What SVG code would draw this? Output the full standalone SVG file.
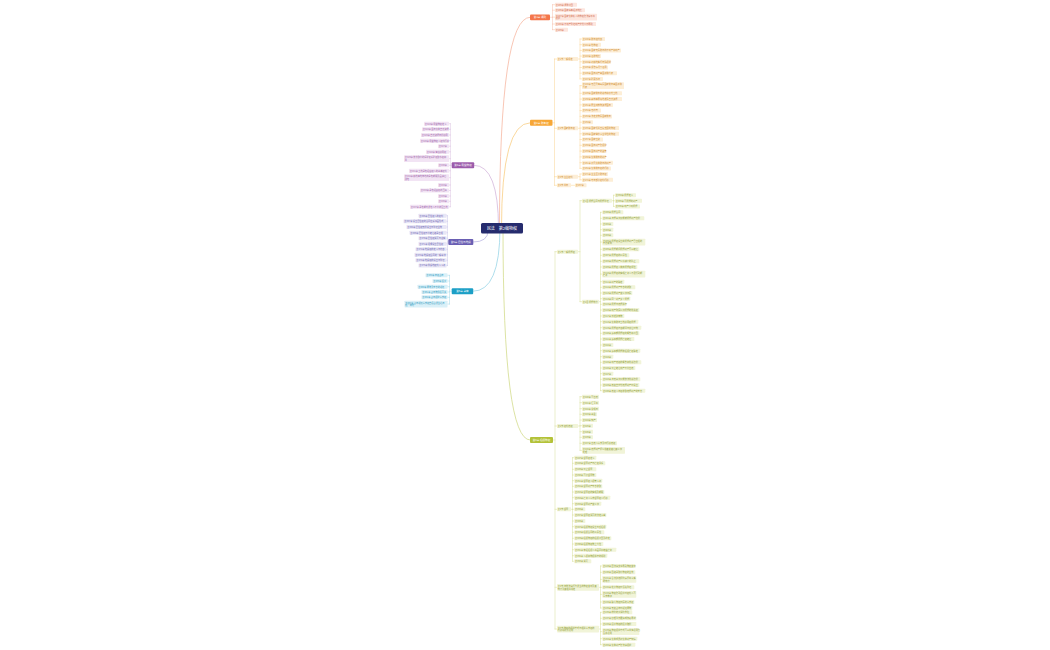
<svg xmlns="http://www.w3.org/2000/svg" width="1050" height="650" viewBox="0 0 1050 650">
<style>
text{font-family:"Noto Sans CJK SC","Noto Sans",sans-serif;font-size:2.2px}
rect{rx:0.6px}
path{fill:none;stroke-width:0.4;stroke-linecap:round}
.mc{stroke-width:0.7}
.k1{stroke:#f5ad95}.k2{stroke:#f8c773}.k3{stroke:#cdd77d}.k4{stroke:#cfaed7}.k5{stroke:#b3aee0}.k6{stroke:#8dd0e4}
.b1 rect{fill:#fde6de}.b1 text{fill:#d06a4b}
.b2 rect{fill:#fdeed6}.b2 text{fill:#cf8a2a}
.b3 rect{fill:#f1f4d8}.b3 text{fill:#8e9a2f}
.b4 rect{fill:#f2e4f4}.b4 text{fill:#9b62a9}
.b5 rect{fill:#e8e6f6}.b5 text{fill:#6961b0}
.b6 rect{fill:#daf0f8}.b6 text{fill:#2a98bd}
.m rect{rx:1px}.m text{fill:#fff;font-size:2.6px;text-anchor:middle}
.b1 .m rect{fill:#f4764a}.b2 .m rect{fill:#f7a736}.b3 .m rect{fill:#b3c238}
.b4 .m rect{fill:#9c5bab}.b5 .m rect{fill:#6a5fb3}.b6 .m rect{fill:#1c9fc6}
#c0 rect{fill:#252b6d;rx:1.5px}#c0 text{fill:#fff;font-size:4px;text-anchor:middle}
</style>
<rect width="1050" height="650" fill="#fff" rx="0"/>
<g id="connectors">
<path class="k1 mc" d="M499.5,228Q499.5,17.3 530,17.3"/>
<path class="k2 mc" d="M501.5,228Q501.5,122.8 530,122.8"/>
<path class="k3 mc" d="M503,228Q503,440 530,440"/>
<path class="k4 mc" d="M498.5,228Q498.5,165.3 474.2,165.3"/>
<path class="k5 mc" d="M488,231Q488,242 473.3,242"/>
<path class="k6 mc" d="M500,228Q500,291.2 473.2,291.2"/>
<path class="k1" d="M550,17.3H552.5M552.5,4.7V29.7M552.5,4.7H555M552.5,10.2H555M552.5,17.15H555M552.5,24H555M552.5,29.7H555"/>
<path class="k2" d="M552.5,122.8H554.5M554.5,59V185.3M554.5,59H557M554.5,128.3H557M554.5,176.7H557M554.5,185.3H557"/>
<path class="k2" d="M578,59H580M580,39V78.9M580,39H582M580,44.7H582M580,50.4H582M580,56.1H582M580,61.8H582M580,67.5H582M580,73.2H582M580,78.9H582"/>
<path class="k2" d="M578,128.3H580M580,85.65V168.4M580,85.65H582M580,93.3H582M580,99.1H582M580,104.9H582M580,110.6H582M580,116.4H582M580,122.2H582M580,128H582M580,133.8H582M580,139.5H582M580,145.3H582M580,151.1H582M580,156.9H582M580,162.7H582M580,168.4H582"/>
<path class="k2" d="M578,176.7H580M580,174V179.8M580,174H582M580,179.8H582M571,185.3H575"/>
<path class="k3" d="M553,440H555M555,251.7V629M555,251.7H557M555,426H557M555,509.3H557M555,587.3H557M555,629H557"/>
<path class="k3" d="M578,251.7H580M580,200.7V301.7M580,200.7H582M580,301.7H582"/>
<path class="k3" d="M612,200.7H613.5M613.5,195.2V206.4M613.5,195.2H615M613.5,200.8H615M613.5,206.4H615"/>
<path class="k3" d="M599,301.7H600.5M600.5,212.3V390.7M600.5,212.3H602.3M600.5,218.3H602.3M600.5,224H602.3M600.5,229.7H602.3M600.5,235.3H602.3M600.5,242.05H602.3M600.5,249.3H602.3M600.5,255.3H602.3M600.5,261.3H602.3M600.5,267H602.3M600.5,274.05H602.3M600.5,281.7H602.3M600.5,287.3H602.3M600.5,293H602.3M600.5,298.7H602.3M600.5,304.3H602.3M600.5,310H602.3M600.5,316H602.3M600.5,321.7H602.3M600.5,327.7H602.3M600.5,333.3H602.3M600.5,339H602.3M600.5,345H602.3M600.5,350.7H602.3M600.5,356.7H602.3M600.5,362.3H602.3M600.5,368H602.3M600.5,373.7H602.3M600.5,379.3H602.3M600.5,385H602.3M600.5,390.7H602.3"/>
<path class="k3" d="M578,426H580M580,396.7V450.35M580,396.7H582M580,402.7H582M580,408.7H582M580,414.3H582M580,420H582M580,425.7H582M580,431.7H582M580,437.3H582M580,443.3H582M580,450.35H582"/>
<path class="k3" d="M571,509.3H572.5M572.5,457.7V561.3M572.5,457.7H574.3M572.5,463.3H574.3M572.5,469.3H574.3M572.5,475H574.3M572.5,480.7H574.3M572.5,486.3H574.3M572.5,492H574.3M572.5,497.7H574.3M572.5,503.7H574.3M572.5,509.3H574.3M572.5,515H574.3M572.5,521H574.3M572.5,526.7H574.3M572.5,532.3H574.3M572.5,538.3H574.3M572.5,544H574.3M572.5,549.7H574.3M572.5,555.7H574.3M572.5,561.3H574.3"/>
<path class="k3" d="M599,587.3H600.5M600.5,566V608M600.5,566H602.3M600.5,572.3H602.3M600.5,579.35H602.3M600.5,587.3H602.3M600.5,594.35H602.3M600.5,602H602.3M600.5,608H602.3"/>
<path class="k3" d="M599,629H600.5M600.5,612.3V644.7M600.5,612.3H602.3M600.5,618.3H602.3M600.5,624H602.3M600.5,631.65H602.3M600.5,638.7H602.3M600.5,644.7H602.3"/>
<path class="k4" d="M451.7,165.3H450.4M450.4,123.7V206.8M450.4,123.7H449M450.4,129.3H449M450.4,135H449M450.4,140.7H449M450.4,146.2H449M450.4,151.8H449M450.4,158.65H449M450.4,165.3H449M450.4,170.8H449M450.4,177.65H449M450.4,185H449M450.4,190.5H449M450.4,196H449M450.4,201.3H449M450.4,206.8H449"/>
<path class="k5" d="M448.3,242H447.4M447.4,215.7V265.6M447.4,215.7H446.5M447.4,221.3H446.5M447.4,227H446.5M447.4,232.7H446.5M447.4,238.2H446.5M447.4,243.8H446.5M447.4,249.3H446.5M447.4,254.8H446.5M447.4,260.2H446.5M447.4,265.6H446.5"/>
<path class="k6" d="M451.7,291.2H449.5M449.5,275.3V304.05M449.5,275.3H447.5M449.5,281H447.5M449.5,286.7H447.5M449.5,292H447.5M449.5,297.3H447.5M449.5,304.05H447.5"/>
</g>
<g id="nodes">
<g id="c0"><rect x="481" y="223" width="42" height="10.5"/><text x="502" y="229.7">民法　第2编物权</text></g>

<g class="b1">
<g id="n1" class="m"><rect x="530" y="14.4" width="20" height="5.8"/><text x="540" y="18.2">第1章 通则</text></g>
<g id="r1"><rect x="555" y="2.7" width="22" height="4"/><text x="555.8" y="5.5">第205条 调整范围</text></g>
<g id="r2"><rect x="555" y="8.2" width="30" height="4"/><text x="555.8" y="11">第206条 国家基本经济制度</text></g>
<g id="r3"><rect x="555" y="13.8" width="42" height="6.7"/><text x="555.8" y="16.6">第207条 国家集体私人的物权受法律平等<tspan x="555.8" y="19.3">保护</tspan></text></g>
<g id="r4"><rect x="555" y="22" width="41" height="4"/><text x="555.8" y="24.8">第208条 不动产登记动产交付公示原则</text></g>
<g id="r5"><rect x="555" y="27.7" width="13" height="4"/><text x="555.8" y="30.5">第209条</text></g>
</g>

<g class="b2">
<g id="n2" class="m"><rect x="530" y="119.8" width="22.5" height="6"/><text x="541.25" y="123.7">第2章 所有权</text></g>
<g id="sA"><rect x="557" y="57" width="21" height="4"/><text x="557.8" y="59.8">第1节 一般规定</text></g>
<g id="sB"><rect x="557" y="126.3" width="21" height="4"/><text x="557.8" y="129.1">第2节 国家所有权</text></g>
<g id="sC"><rect x="557" y="174.7" width="21" height="4"/><text x="557.8" y="177.5">第3节 业主权利</text></g>
<g id="sD"><rect x="557" y="183.3" width="14" height="4"/><text x="557.8" y="186.1">第4节 共有</text></g>
<g id="a1"><rect x="582" y="37" width="23" height="4"/><text x="582.8" y="39.8">第240条 所有权内容</text></g>
<g id="a2"><rect x="582" y="42.7" width="19" height="4"/><text x="582.8" y="45.5">第241条 他物权</text></g>
<g id="a3"><rect x="582" y="48.4" width="39" height="4"/><text x="582.8" y="51.2">第242条 国家专属所有的不动产和动产</text></g>
<g id="a4"><rect x="582" y="54.1" width="19" height="4"/><text x="582.8" y="56.9">第243条 征收制度</text></g>
<g id="a5"><rect x="582" y="59.8" width="29" height="4"/><text x="582.8" y="62.6">第244条 对耕地实行特殊保护</text></g>
<g id="a6"><rect x="582" y="65.5" width="26" height="4"/><text x="582.8" y="68.3">第245条 紧急情况下征用</text></g>
<g id="a7"><rect x="582" y="71.2" width="35" height="4"/><text x="582.8" y="74">第246条 国有财产由国务院代表</text></g>
<g id="a8"><rect x="582" y="76.9" width="21" height="4"/><text x="582.8" y="79.7">第247条 矿藏水流</text></g>
<g id="b1"><rect x="582" y="82.3" width="42" height="6.7"/><text x="582.8" y="85.1">第248条 无居民海岛属国家所有由国务院<tspan x="582.8" y="87.8">代表</tspan></text></g>
<g id="b2"><rect x="582" y="91.3" width="40" height="4"/><text x="582.8" y="94.1">第249条 国家所有的城市和农村土地</text></g>
<g id="b3"><rect x="582" y="97.1" width="40" height="4"/><text x="582.8" y="99.9">第250条 森林草原荒地滩涂自然资源</text></g>
<g id="b4"><rect x="582" y="102.9" width="31" height="4"/><text x="582.8" y="105.7">第251条 野生动植物资源国有</text></g>
<g id="b5"><rect x="582" y="108.6" width="19" height="4"/><text x="582.8" y="111.4">第252条 无线电</text></g>
<g id="b6"><rect x="582" y="114.4" width="30" height="4"/><text x="582.8" y="117.2">第253条 法定文物属国家所有</text></g>
<g id="b7"><rect x="582" y="120.2" width="11" height="4"/><text x="582.8" y="123">第254条</text></g>
<g id="b8"><rect x="582" y="126" width="37" height="4"/><text x="582.8" y="128.8">第255条 国家机关直接支配的物权</text></g>
<g id="b9"><rect x="582" y="131.8" width="37" height="4"/><text x="582.8" y="134.6">第256条 国家举办事业单位的物权</text></g>
<g id="b10"><rect x="582" y="137.5" width="21" height="4"/><text x="582.8" y="140.3">第257条 国家出资</text></g>
<g id="b11"><rect x="582" y="143.3" width="24" height="4"/><text x="582.8" y="146.1">第258条 国有财产受保护</text></g>
<g id="b12"><rect x="582" y="149.1" width="24" height="4"/><text x="582.8" y="151.9">第259条 国有财产的监管</text></g>
<g id="b13"><rect x="582" y="154.9" width="24" height="4"/><text x="582.8" y="157.7">第260条 集体所有的财产</text></g>
<g id="b14"><rect x="582" y="160.7" width="31" height="4"/><text x="582.8" y="163.5">第261条 农民集体所有的财产</text></g>
<g id="b15"><rect x="582" y="166.4" width="29" height="4"/><text x="582.8" y="169.2">第262条 集体所有权的行使</text></g>
<g id="c1"><rect x="582" y="172" width="26" height="4"/><text x="582.8" y="174.8">第271条 业主区分所有权</text></g>
<g id="c2"><rect x="582" y="177.8" width="31" height="4"/><text x="582.8" y="180.6">第272条 专有部分权利行使</text></g>
<g id="d1"><rect x="575" y="183.3" width="11.5" height="4"/><text x="575.8" y="186.1">第297条</text></g>
</g>

<g class="b3">
<g id="n3" class="m"><rect x="530" y="437" width="23" height="6"/><text x="541.5" y="440.9">第3章 担保物权</text></g>
<g id="sE"><rect x="557" y="249.7" width="21" height="4"/><text x="557.8" y="252.5">第1节 一般抵押权</text></g>
<g id="sE1"><rect x="582" y="198.7" width="30" height="4"/><text x="582.8" y="201.5">第1目 抵押合同与抵押登记</text></g>
<g id="sE2"><rect x="582" y="299.7" width="17" height="4"/><text x="582.8" y="302.5">第2目 抵押效力</text></g>
<g id="e1a"><rect x="615" y="193.2" width="21" height="4"/><text x="615.8" y="196">第394条 抵押定义</text></g>
<g id="e1b"><rect x="615" y="198.8" width="27" height="4"/><text x="615.8" y="201.6">第395条 可抵押的财产</text></g>
<g id="e1c"><rect x="615" y="204.4" width="25" height="4"/><text x="615.8" y="207.2">第396条 动产浮动抵押</text></g>
<g id="e01"><rect x="602.3" y="210.3" width="21" height="4"/><text x="603.1" y="213.1">第400条 抵押合同</text></g>
<g id="e02"><rect x="602.3" y="216.3" width="42" height="4"/><text x="603.1" y="219.1">第401条 流押条款仅能就抵押财产受偿</text></g>
<g id="e03"><rect x="602.3" y="222" width="11" height="4"/><text x="603.1" y="224.8">第402条</text></g>
<g id="e04"><rect x="602.3" y="227.7" width="11" height="4"/><text x="603.1" y="230.5">第403条</text></g>
<g id="e05"><rect x="602.3" y="233.3" width="11" height="4"/><text x="603.1" y="236.1">第404条</text></g>
<g id="e06"><rect x="602.3" y="238.7" width="43" height="6.7"/><text x="603.1" y="241.5">第405条 抵押权设立前抵押财产已出租的<tspan x="603.1" y="244.2">不受影响</tspan></text></g>
<g id="e07"><rect x="602.3" y="247.3" width="37" height="4"/><text x="603.1" y="250.1">第406条 抵押期间抵押财产可以转让</text></g>
<g id="e08"><rect x="602.3" y="253.3" width="27" height="4"/><text x="603.1" y="256.1">第407条 抵押权的从属性</text></g>
<g id="e09"><rect x="602.3" y="259.3" width="37" height="4"/><text x="603.1" y="262.1">第408条 抵押财产价值减少的防止</text></g>
<g id="e10"><rect x="602.3" y="265" width="35" height="4"/><text x="603.1" y="267.8">第409条 抵押权人放弃抵押权顺位</text></g>
<g id="e11"><rect x="602.3" y="270.7" width="43" height="6.7"/><text x="603.1" y="273.5">第410条 抵押权的实现债务人不履行到期<tspan x="603.1" y="276.2">债务</tspan></text></g>
<g id="e12"><rect x="602.3" y="279.7" width="22" height="4"/><text x="603.1" y="282.5">第411条 财产的确定</text></g>
<g id="e13"><rect x="602.3" y="285.3" width="33" height="4"/><text x="603.1" y="288.1">第412条 抵押财产孳息的收取</text></g>
<g id="e14"><rect x="602.3" y="291" width="30" height="4"/><text x="603.1" y="293.8">第413条 抵押财产变价款归属</text></g>
<g id="e15"><rect x="602.3" y="296.7" width="28" height="4"/><text x="603.1" y="299.5">第414条 同一财产多个抵押</text></g>
<g id="e16"><rect x="602.3" y="302.3" width="24" height="4"/><text x="603.1" y="305.1">第415条 抵押与质押并存</text></g>
<g id="e17"><rect x="602.3" y="308" width="37" height="4"/><text x="603.1" y="310.8">第416条 动产购买价款抵押的优先权</text></g>
<g id="e18"><rect x="602.3" y="314" width="22" height="4"/><text x="603.1" y="316.8">第417条 新增建筑物</text></g>
<g id="e19"><rect x="602.3" y="319.7" width="36" height="4"/><text x="603.1" y="322.5">第418条 集体所有土地使用权抵押</text></g>
<g id="e20"><rect x="602.3" y="325.7" width="39" height="4"/><text x="603.1" y="328.5">第419条 抵押权存续期间与诉讼时效</text></g>
<g id="e21"><rect x="602.3" y="331.3" width="37" height="4"/><text x="603.1" y="334.1">第420条 最高额抵押权的概念和范围</text></g>
<g id="e22"><rect x="602.3" y="337" width="32" height="4"/><text x="603.1" y="339.8">第421条 最高额抵押债权转让</text></g>
<g id="e23"><rect x="602.3" y="343" width="11" height="4"/><text x="603.1" y="345.8">第422条</text></g>
<g id="e24"><rect x="602.3" y="348.7" width="38" height="4"/><text x="603.1" y="351.5">第423条 最高额抵押所担保债权确定</text></g>
<g id="e25"><rect x="602.3" y="354.7" width="11" height="4"/><text x="603.1" y="357.5">第424条</text></g>
<g id="e26"><rect x="602.3" y="360.3" width="39" height="4"/><text x="603.1" y="363.1">第425条 动产质权的概念和优先受偿</text></g>
<g id="e27"><rect x="602.3" y="366" width="33" height="4"/><text x="603.1" y="368.8">第426条 禁止转让动产不得出质</text></g>
<g id="e28"><rect x="602.3" y="371.7" width="11" height="4"/><text x="603.1" y="374.5">第427条</text></g>
<g id="e29"><rect x="602.3" y="377.3" width="38" height="4"/><text x="603.1" y="380.1">第428条 流质条款只能依法优先受偿</text></g>
<g id="e30"><rect x="602.3" y="383" width="37" height="4"/><text x="603.1" y="385.8">第429条 质权自交付质押财产时设立</text></g>
<g id="e31"><rect x="602.3" y="388.7" width="43" height="4"/><text x="603.1" y="391.5">第430条 质权人有权收取质押财产的孳息</text></g>
<g id="sF"><rect x="557" y="424" width="21" height="4"/><text x="557.8" y="426.8">第2节 权利质权</text></g>
<g id="f01"><rect x="582" y="394.7" width="17" height="4"/><text x="582.8" y="397.5">第440条 可出质</text></g>
<g id="f02"><rect x="582" y="400.7" width="17" height="4"/><text x="582.8" y="403.5">第441条 汇票等</text></g>
<g id="f03"><rect x="582" y="406.7" width="17" height="4"/><text x="582.8" y="409.5">第442条 兑现日</text></g>
<g id="f04"><rect x="582" y="412.3" width="15" height="4"/><text x="582.8" y="415.1">第443条 基金</text></g>
<g id="f05"><rect x="582" y="418" width="15" height="4"/><text x="582.8" y="420.8">第444条 知产</text></g>
<g id="f06"><rect x="582" y="423.7" width="11" height="4"/><text x="582.8" y="426.5">第445条</text></g>
<g id="f07"><rect x="582" y="429.7" width="11" height="4"/><text x="582.8" y="432.5">第446条</text></g>
<g id="f08"><rect x="582" y="435.3" width="11" height="4"/><text x="582.8" y="438.1">第439条</text></g>
<g id="f09"><rect x="582" y="441.3" width="35" height="4"/><text x="582.8" y="444.1">第437条 出质人请求及时行使质权</text></g>
<g id="f10"><rect x="582" y="447" width="43" height="6.7"/><text x="582.8" y="449.8">第438条 质押财产折价拍卖变卖后其价款<tspan x="582.8" y="452.5">处理</tspan></text></g>
<g id="sG"><rect x="557" y="507.3" width="14" height="4"/><text x="557.8" y="510.1">第3节 留置</text></g>
<g id="g01"><rect x="574.3" y="455.7" width="22" height="4"/><text x="575.1" y="458.5">第447条 留置权定义</text></g>
<g id="g02"><rect x="574.3" y="461.3" width="31" height="4"/><text x="575.1" y="464.1">第448条 留置财产与债权关系</text></g>
<g id="g03"><rect x="574.3" y="467.3" width="22" height="4"/><text x="575.1" y="470.1">第449条 禁止留置</text></g>
<g id="g04"><rect x="574.3" y="473" width="22" height="4"/><text x="575.1" y="475.8">第450条 可分留置物</text></g>
<g id="g05"><rect x="574.3" y="478.7" width="28" height="4"/><text x="575.1" y="481.5">第451条 留置权人保管义务</text></g>
<g id="g06"><rect x="574.3" y="484.3" width="28" height="4"/><text x="575.1" y="487.1">第452条 留置财产孳息收取</text></g>
<g id="g07"><rect x="574.3" y="490" width="30" height="4"/><text x="575.1" y="492.8">第453条 留置权的实现及期限</text></g>
<g id="g08"><rect x="574.3" y="495.7" width="36" height="4"/><text x="575.1" y="498.5">第454条 债务人请求留置权人行使</text></g>
<g id="g09"><rect x="574.3" y="501.7" width="27" height="4"/><text x="575.1" y="504.5">第455条 留置财产变价款</text></g>
<g id="g10"><rect x="574.3" y="507.3" width="11" height="4"/><text x="575.1" y="510.1">第456条</text></g>
<g id="g11"><rect x="574.3" y="513" width="32" height="4"/><text x="575.1" y="515.8">第457条 留置权消灭的法定事由</text></g>
<g id="g12"><rect x="574.3" y="519" width="11" height="4"/><text x="575.1" y="521.8">第386条</text></g>
<g id="g13"><rect x="574.3" y="524.7" width="32" height="4"/><text x="575.1" y="527.5">第387条 担保物权设立与反担保</text></g>
<g id="g14"><rect x="574.3" y="530.3" width="30" height="4"/><text x="575.1" y="533.1">第388条 担保合同的从属性</text></g>
<g id="g15"><rect x="574.3" y="536.3" width="37" height="4"/><text x="575.1" y="539.1">第389条 担保物权的担保范围及约定</text></g>
<g id="g16"><rect x="574.3" y="542" width="29" height="4"/><text x="575.1" y="544.8">第390条 担保物权物上代位</text></g>
<g id="g17"><rect x="574.3" y="547.7" width="42" height="4"/><text x="575.1" y="550.5">第391条 未经担保人书面同意转移债务</text></g>
<g id="g18"><rect x="574.3" y="553.7" width="33" height="4"/><text x="575.1" y="556.5">第392条 人保和物保并存的规则</text></g>
<g id="g19"><rect x="574.3" y="559.3" width="17" height="4"/><text x="575.1" y="562.1">第393条 消灭</text></g>
<g id="sH"><rect x="557" y="584" width="42" height="6.7"/><text x="557.8" y="586.8">第4节 非依法律行为发生的物权变动及其<tspan x="557.8" y="589.5">效力及其相关规定</tspan></text></g>
<g id="h1"><rect x="602.3" y="564" width="33" height="4"/><text x="603.1" y="566.8">第229条 因法律文书导致物权变动</text></g>
<g id="h2"><rect x="602.3" y="570.3" width="33" height="4"/><text x="603.1" y="573.1">第230条 因继承取得物权的生效</text></g>
<g id="h3"><rect x="602.3" y="576" width="34" height="6.7"/><text x="603.1" y="578.8">第231条 合法建造拆除房屋等事实<tspan x="603.1" y="581.5">的效力</tspan></text></g>
<g id="h4"><rect x="602.3" y="585.3" width="32" height="4"/><text x="603.1" y="588.1">第232条 处分物权时须先登记</text></g>
<g id="h5"><rect x="602.3" y="591" width="34" height="6.7"/><text x="603.1" y="593.8">第233条 物权受到侵害时权利人可<tspan x="603.1" y="596.5">请求救济</tspan></text></g>
<g id="h6"><rect x="602.3" y="600" width="32" height="4"/><text x="603.1" y="602.8">第234条 确认物权归属的请求权</text></g>
<g id="h7"><rect x="602.3" y="606" width="30" height="4"/><text x="603.1" y="608.8">第235条 无权占有时返还原物</text></g>
<g id="sI"><rect x="557" y="625.7" width="42" height="6.7"/><text x="557.8" y="628.5">第5节 物权的保护方式与相关请求权的<tspan x="557.8" y="631.2">行使规则及适用</tspan></text></g>
<g id="i1"><rect x="602.3" y="610.3" width="30" height="4"/><text x="603.1" y="613.1">第236条 排除妨害消除危险</text></g>
<g id="i2"><rect x="602.3" y="616.3" width="34" height="4"/><text x="603.1" y="619.1">第237条 修理重作更换或恢复原状</text></g>
<g id="i3"><rect x="602.3" y="622" width="34" height="4"/><text x="603.1" y="624.8">第238条 侵害物权的损害赔偿</text></g>
<g id="i4"><rect x="602.3" y="628.3" width="37" height="6.7"/><text x="603.1" y="631.1">第239条 物权保护方式可以单独适用也<tspan x="603.1" y="633.8">合并适用</tspan></text></g>
<g id="i5"><rect x="602.3" y="636.7" width="35" height="4"/><text x="603.1" y="639.5">第264条 集体成员对集体财产知情</text></g>
<g id="i6"><rect x="602.3" y="642.7" width="33" height="4"/><text x="603.1" y="645.5">第265条 集体财产受法律保护</text></g>
</g>

<g class="b4">
<g id="n4" class="m"><rect x="451.7" y="162.3" width="22.5" height="6"/><text x="462.95" y="166.2">第4章 用益物权</text></g>
<g id="p01"><rect x="424" y="121.7" width="25" height="4"/><text x="424.8" y="124.5">第323条 用益物权定义</text></g>
<g id="p02"><rect x="422" y="127.3" width="27" height="4"/><text x="422.8" y="130.1">第324条 国有集体自然资源</text></g>
<g id="p03"><rect x="421" y="133" width="28" height="4"/><text x="421.8" y="135.8">第325条 自然资源有偿使用</text></g>
<g id="p04"><rect x="420" y="138.7" width="29" height="4"/><text x="420.8" y="141.5">第326条 用益物权人权利行使</text></g>
<g id="p05"><rect x="438" y="144.2" width="11" height="4"/><text x="438.8" y="147">第327条</text></g>
<g id="p06"><rect x="426" y="149.8" width="23" height="4"/><text x="426.8" y="152.6">第328条 海域使用权</text></g>
<g id="p07"><rect x="404" y="155.3" width="45" height="6.7"/><text x="404.8" y="158.1">第329条 依法取得的探矿权采矿权取水权和<tspan x="404.8" y="160.8">等</tspan></text></g>
<g id="p08"><rect x="438" y="163.3" width="11" height="4"/><text x="438.8" y="166.1">第330条</text></g>
<g id="p09"><rect x="409" y="168.8" width="40" height="4"/><text x="409.8" y="171.6">第331条 土地承包经营权人的基本权利</text></g>
<g id="p10"><rect x="404" y="174.3" width="45" height="6.7"/><text x="404.8" y="177.1">第332条 耕地草地林地的承包期限及届满后<tspan x="404.8" y="179.8">续包</tspan></text></g>
<g id="p11"><rect x="438" y="183" width="11" height="4"/><text x="438.8" y="185.8">第333条</text></g>
<g id="p12"><rect x="420" y="188.5" width="29" height="4"/><text x="420.8" y="191.3">第334条 承包经营权的互换</text></g>
<g id="p13"><rect x="438" y="194" width="11" height="4"/><text x="438.8" y="196.8">第335条</text></g>
<g id="p14"><rect x="438" y="199.3" width="11" height="4"/><text x="438.8" y="202.1">第336条</text></g>
<g id="p15"><rect x="410" y="204.8" width="39" height="4"/><text x="410.8" y="207.6">第337条 承包期内发包人不得收回土地</text></g>
</g>

<g class="b5">
<g id="n5" class="m"><rect x="448.3" y="239" width="25" height="6"/><text x="460.8" y="242.9">第5章 居住与地役</text></g>
<g id="q01"><rect x="418.5" y="213.7" width="28" height="4"/><text x="419.3" y="216.5">第366条 居住权人的权利</text></g>
<g id="q02"><rect x="403.5" y="219.3" width="43" height="4"/><text x="404.3" y="222.1">第367条 设立居住权的合同应采书面形式</text></g>
<g id="q03"><rect x="406.5" y="225" width="40" height="4"/><text x="407.3" y="227.8">第368条 居住权无偿设立与登记生效</text></g>
<g id="q04"><rect x="409.5" y="230.7" width="37" height="4"/><text x="410.3" y="233.5">第369条 居住权不得转让继承出租</text></g>
<g id="q05"><rect x="418.5" y="236.2" width="28" height="4"/><text x="419.3" y="239">第370条 居住权消灭与注销</text></g>
<g id="q06"><rect x="418.5" y="241.8" width="28" height="4"/><text x="419.3" y="244.6">第371条 遗嘱设立居住权</text></g>
<g id="q07"><rect x="415.5" y="247.3" width="31" height="4"/><text x="416.3" y="250.1">第372条 地役权的定义与内容</text></g>
<g id="q08"><rect x="414.5" y="252.8" width="32" height="4"/><text x="415.3" y="255.6">第373条 地役权合同的一般条款</text></g>
<g id="q09"><rect x="415.5" y="258.2" width="31" height="4"/><text x="416.3" y="261">第374条 地役权的设立与登记</text></g>
<g id="q10"><rect x="418.5" y="263.6" width="28" height="4"/><text x="419.3" y="266.4">第375条 供役地权利人义务</text></g>
</g>

<g class="b6">
<g id="n6" class="m"><rect x="451.7" y="288.2" width="21.5" height="6"/><text x="462.45" y="292.1">第6章 占有</text></g>
<g id="t1"><rect x="425.5" y="273.3" width="22" height="4"/><text x="426.3" y="276.1">第458条 有权占有</text></g>
<g id="t2"><rect x="432.5" y="279" width="15" height="4"/><text x="433.3" y="281.8">第459条 损害</text></g>
<g id="t3"><rect x="417.5" y="284.7" width="30" height="4"/><text x="418.3" y="287.5">第460条 原物及孳息的返还</text></g>
<g id="t4"><rect x="421.5" y="290" width="26" height="4"/><text x="422.3" y="292.8">第461条 占有物毁损灭失</text></g>
<g id="t5"><rect x="421.5" y="295.3" width="26" height="4"/><text x="422.3" y="298.1">第462条 占有保护请求权</text></g>
<g id="t6"><rect x="404.5" y="300.7" width="43" height="6.7"/><text x="405.3" y="303.5">第463条 占有返还请求权自侵占发生之日<tspan x="405.3" y="306.2">起一年内</tspan></text></g>
</g>
</g>
</svg>
